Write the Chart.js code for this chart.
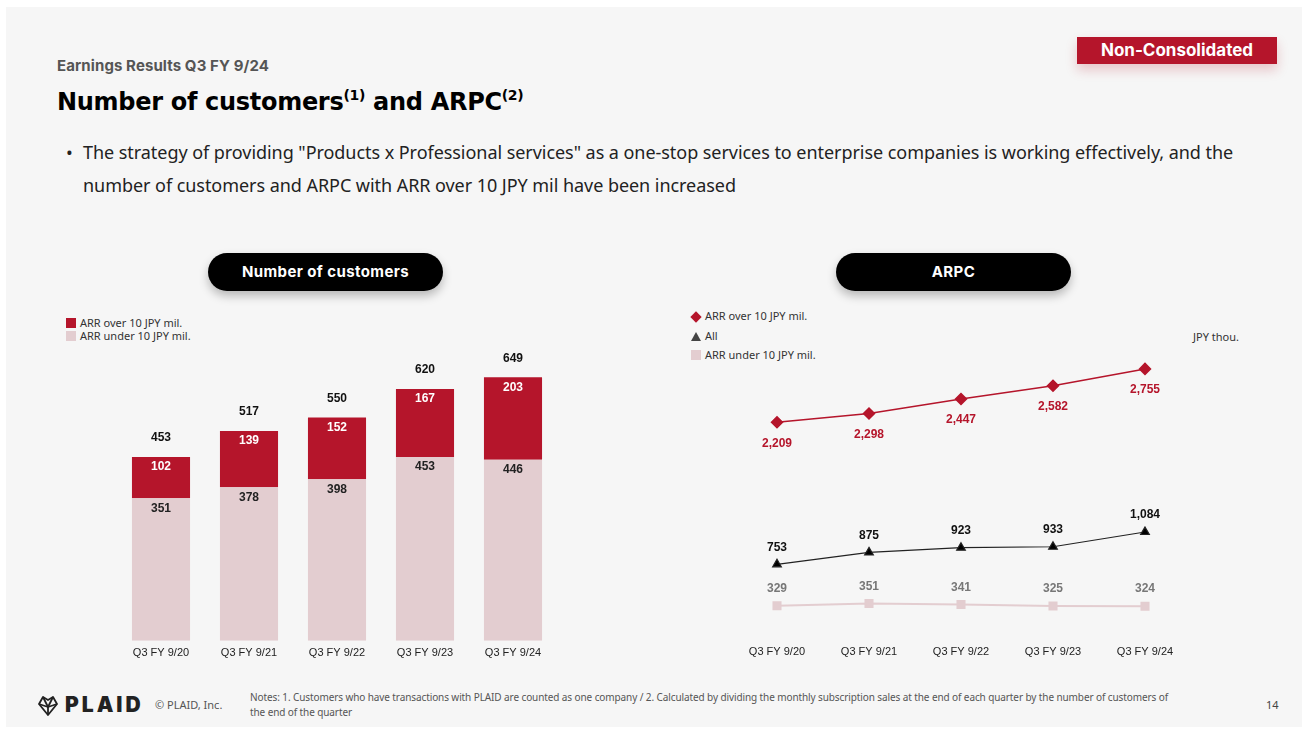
<!DOCTYPE html>
<html>
<head>
<meta charset="utf-8">
<script src="https://cdn.jsdelivr.net/npm/chart.js@4.4.1/dist/chart.umd.min.js"></script>
<style>
  html, body { margin: 0; padding: 0; background: #fff; }
  body { width: 1308px; height: 731px; position: relative; overflow: hidden; font-family: "Noto Sans", sans-serif; }
  .slide { position: absolute; left: 6px; top: 7px; width: 1296px; height: 720px; background: #f6f6f6; }
  .abs { position: absolute; white-space: nowrap; }
  .kicker { left: 51px; top: 49px; font: 700 15px Inter, sans-serif; color: #555; letter-spacing: 0.1px; }
  .title { left: 51px; top: 81px; font: 700 24px "DejaVu Sans", sans-serif; color: #000; letter-spacing: -0.3px; }
  .title sup { font-size: 14px; vertical-align: 10px; line-height: 0; }
  .badge { left: 1071px; top: 30px; width: 200px; height: 27px; background: #b5152b; color: #fff;
           font: 700 17px Inter, sans-serif; text-align: center; line-height: 27px;
           box-shadow: 0 6px 12px rgba(181, 21, 43, 0.22); }
  .bullet { left: 51px; top: 129px; font-size: 18px; line-height: 33px; color: #222; letter-spacing: -0.05px; }
  .bullet span.dot { display: inline-block; width: 17px; padding-left: 9px; }
  .pill { top: 246px; width: 235px; height: 38px; border-radius: 19px; background: #000; color: #fff;
          font: 700 15px Inter, sans-serif; text-align: center; line-height: 38px; letter-spacing: 0.4px;
          box-shadow: 0 5px 10px rgba(0, 0, 0, 0.25); }
  .legend { font-size: 11px; color: #333; }
  .legend .row { position: absolute; white-space: nowrap; line-height: 13px; }
  .sw { display: inline-block; vertical-align: -1px; margin-right: 4px; }
  .footer-note { left: 244px; top: 683px; font-size: 10px; line-height: 15px; color: #555; letter-spacing: -0.1px; }
  .copy { left: 149px; top: 690px; font-size: 11px; color: #555; }
  .logo { left: 31px; top: 685px; font: 900 21px Inter, sans-serif; color: #222; letter-spacing: 3px; }
  .logo svg { vertical-align: -4px; margin-right: 6px; }
  .page { left: 1260px; top: 690px; font-size: 11px; color: #444; }
  canvas { position: absolute; }
</style>
</head>
<body>
<div class="slide">
  <div class="abs kicker">Earnings Results Q3 FY 9/24</div>
  <div class="abs title">Number of customers<sup>(1)</sup> and ARPC<sup>(2)</sup></div>
  <div class="abs badge">Non-Consolidated</div>
  <div class="abs bullet"><span class="dot">•</span>The strategy of providing "Products x Professional services" as a one-stop services to enterprise companies is working effectively, and the<br><span class="dot"></span>number of customers and ARPC with ARR over 10 JPY mil have been increased</div>

  <div class="abs pill" style="left:202px;">Number of customers</div>
  <div class="abs pill" style="left:830px;">ARPC</div>

  <div class="abs legend" style="left:60px; top:309px;">
    <div class="row" style="top:0;"><span class="sw" style="width:10px;height:10px;background:#b5152b;"></span>ARR over 10 JPY mil.</div>
    <div class="row" style="top:13px;"><span class="sw" style="width:10px;height:10px;background:#e3cdd0;"></span>ARR under 10 JPY mil.</div>
  </div>

  <div class="abs legend" style="left:685px; top:302px;">
    <div class="row" style="top:0;"><span class="sw" style="width:8px;height:8px;background:#b5152b;transform:rotate(45deg);margin-left:1px;margin-right:5px;"></span>ARR over 10 JPY mil.</div>
    <div class="row" style="top:20px;"><span class="sw" style="width:0;height:0;border-left:5px solid transparent;border-right:5px solid transparent;border-bottom:9px solid #444;"></span>All</div>
    <div class="row" style="top:39px;"><span class="sw" style="width:10px;height:10px;background:#e3cdd0;"></span>ARR under 10 JPY mil.</div>
  </div>
  <div class="abs legend" style="left:1187px; top:322px;">JPY thou.</div>

  <canvas id="customersChart" width="440" height="366" style="left:111px; top:293px;"></canvas>
  <canvas id="arpcChart" width="460" height="367" style="left:725px; top:293px;"></canvas>

  <div class="abs logo"><svg width="22" height="22" viewBox="0 0 22 22" fill="none" stroke="#222" stroke-width="1.8" stroke-linejoin="round">
    <path d="M11 21 L2 10 L6 3 L11 6 L16 3 L20 10 Z"/><path d="M6 3 L11 13 L16 3"/><path d="M2 10 L11 13 L20 10"/><path d="M11 13 L11 21"/>
  </svg>PLAID</div>
  <div class="abs copy">© PLAID, Inc.</div>
  <div class="abs footer-note">Notes: 1. Customers who have transactions with PLAID are counted as one company / 2. Calculated by dividing the monthly subscription sales at the end of each quarter by the number of customers of<br>the end of the quarter</div>
  <div class="abs page">14</div>
</div>

<script>
// Quarter labels shared by both charts
const quarters = ['Q3 FY 9/20', 'Q3 FY 9/21', 'Q3 FY 9/22', 'Q3 FY 9/23', 'Q3 FY 9/24'];

// Number of customers
const customersOver10 = [102, 139, 152, 167, 203];
const customersUnder10 = [351, 378, 398, 453, 446];

// ARPC (JPY thou.)
const arpcOver10 = [2209, 2298, 2447, 2582, 2755];
const arpcAll = [753, 875, 923, 933, 1084];
const arpcUnder10 = [329, 351, 341, 325, 324];

const RED = '#b5152b';
const PINK = '#e3cdd0';
const LABEL_FONT = 'bold 12px "Liberation Sans", Arial, sans-serif';

const fmt = v => v.toLocaleString('en-US');

// Draws value labels next to each point / bar segment
const valueLabels = {
    id: 'valueLabels',
    afterDatasetsDraw(chart) {
        const ctx = chart.ctx;
        ctx.save();
        ctx.font = LABEL_FONT;
        ctx.textAlign = 'center';
        ctx.textBaseline = 'middle';
        chart.data.datasets.forEach((ds, i) => {
            const meta = chart.getDatasetMeta(i);
            meta.data.forEach((el, j) => {
                ctx.fillStyle = ds.labelColor;
                ctx.fillText(fmt(ds.data[j]), el.x, el.y + ds.labelOffset);
            });
        });
        // stack totals above the bars
        if (chart.config.type === 'bar') {
            const top = chart.getDatasetMeta(chart.data.datasets.length - 1);
            top.data.forEach((el, j) => {
                const total = chart.data.datasets.reduce((s, ds) => s + ds.data[j], 0);
                ctx.fillStyle = '#111';
                ctx.fillText(fmt(total), el.x, el.y - 19);
            });
        }
        ctx.restore();
    }
};

const xTicks = {
    color: '#222',
    padding: 6,
    font: { family: '"Liberation Sans", Arial, sans-serif', size: 11 }
};

new Chart(document.getElementById('customersChart'), {
    type: 'bar',
    data: {
        labels: quarters,
        datasets: [
            { label: 'ARR under 10 JPY mil.', data: customersUnder10, backgroundColor: PINK, labelColor: '#222', labelOffset: 10 },
            { label: 'ARR over 10 JPY mil.', data: customersOver10, backgroundColor: RED, labelColor: '#fff', labelOffset: 10 }
        ]
    },
    options: {
        responsive: false,
        animation: false,
        layout: { padding: { top: 16 }, autoPadding: false },
        barPercentage: 0.66,
        categoryPercentage: 1,
        plugins: { legend: { display: false }, tooltip: { enabled: false } },
        scales: {
            x: { stacked: true, grid: { display: false, drawTicks: false }, border: { display: false }, ticks: xTicks },
            y: { stacked: true, display: false, min: 0, max: 800 }
        }
    },
    plugins: [valueLabels]
});

new Chart(document.getElementById('arpcChart'), {
    type: 'line',
    data: {
        labels: quarters,
        datasets: [
            { label: 'ARR over 10 JPY mil.', data: arpcOver10, borderColor: RED, backgroundColor: RED, borderWidth: 1.5,
              pointStyle: 'rectRot', pointRadius: 5.5, labelColor: RED, labelOffset: 21 },
            { label: 'All', data: arpcAll, borderColor: '#222', backgroundColor: '#000', borderWidth: 1.2,
              pointStyle: 'triangle', pointRadius: 5, labelColor: '#111', labelOffset: -17 },
            { label: 'ARR under 10 JPY mil.', data: arpcUnder10, borderColor: PINK, backgroundColor: PINK, borderWidth: 2,
              pointStyle: 'rect', pointRadius: 5, labelColor: '#777', labelOffset: -17 }
        ]
    },
    options: {
        responsive: false,
        animation: false,
        layout: { padding: { top: 45 }, autoPadding: false },
        plugins: { legend: { display: false }, tooltip: { enabled: false } },
        elements: { point: { borderWidth: 0 } },
        scales: {
            x: { offset: true, grid: { display: false, drawTicks: false }, border: { display: false },
                 ticks: Object.assign({}, xTicks, { padding: 8 }) },
            y: { display: false, min: 0, max: 3000 }
        }
    },
    plugins: [valueLabels]
});
</script>
</body>
</html>
